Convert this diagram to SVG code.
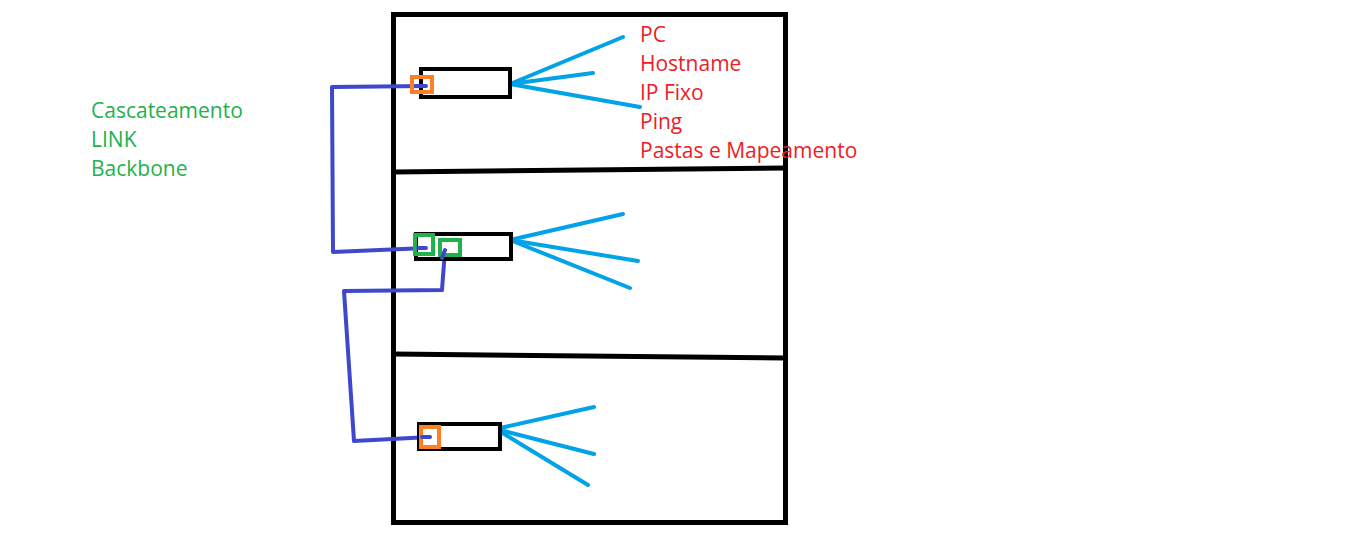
<svg xmlns="http://www.w3.org/2000/svg" width="1345" height="553" viewBox="0 0 1345 553">
<style>
.frame{fill:none;stroke:#000;stroke-width:5}
.sw{fill:#fff;stroke:#000;stroke-width:4}
.or{fill:none;stroke:#FF7F27;stroke-width:4}
.gr{fill:none;stroke:#22B14C;stroke-width:4}
.bl{fill:none;stroke:#3F48CC;stroke-width:4;stroke-linecap:round;stroke-linejoin:round}
.cy{fill:none;stroke:#00A2E8;stroke-width:4;stroke-linecap:round}
.red{font-family:"Open Sans","Liberation Sans",sans-serif;font-size:21px;fill:#ED1C24}
.grt{font-family:"Open Sans","Liberation Sans",sans-serif;font-size:21px;fill:#22B14C}
</style>
<rect width="1345" height="553" fill="#fff"/>
<g id="building">
<rect class="frame" x="393.5" y="14.5" width="392" height="508"/>
<line class="frame" x1="393.5" y1="172" x2="785.5" y2="168"/>
<line class="frame" x1="393.5" y1="354" x2="785.5" y2="358"/>
</g>
<g id="connectors">
<polyline class="bl" points="426,86 332,87 333,252 426,248"/>
<polyline class="bl" points="445,250 442,290 344,291 354,441 430,437"/>
<line class="cy" x1="510" y1="84" x2="623" y2="37"/>
<line class="cy" x1="510" y1="84" x2="593" y2="73"/>
<line class="cy" x1="510" y1="84" x2="640" y2="107"/>
<line class="cy" x1="510" y1="240" x2="623" y2="214"/>
<line class="cy" x1="510" y1="240" x2="638" y2="261"/>
<line class="cy" x1="510" y1="240" x2="630" y2="288"/>
<line class="cy" x1="496" y1="429" x2="594" y2="407"/>
<line class="cy" x1="496" y1="429" x2="594" y2="454"/>
<line class="cy" x1="496" y1="429" x2="588" y2="485"/>
</g>
<g id="switch1">
<rect class="sw" x="421" y="69" width="89" height="28"/>
<rect class="or" x="412" y="77" width="20" height="15"/>
</g>
<g id="switch2">
<rect class="sw" x="416" y="234" width="95" height="25"/>
<rect class="gr" x="415" y="235" width="18" height="19"/>
<rect class="gr" x="440" y="240" width="20" height="15"/>
</g>
<g id="switch3">
<rect class="sw" x="419" y="424" width="81" height="25"/>
<rect class="or" x="421" y="427" width="18" height="20"/>
</g>
<g id="links">
<polyline class="bl" points="426,86 418,86"/>
<polyline class="bl" points="426,248 418,248"/>
<polyline class="bl" points="445,250 442,258"/>
<polyline class="bl" points="430,437 422,437"/>
</g>
<g id="legend-red">
<text class="red" x="640" y="42">PC</text>
<text class="red" x="640" y="71">Hostname</text>
<text class="red" x="640" y="100">IP Fixo</text>
<text class="red" x="640" y="129">Ping</text>
<text class="red" x="640" y="158">Pastas e Mapeamento</text>
</g>
<g id="legend-green">
<text class="grt" x="91" y="118">Cascateamento</text>
<text class="grt" x="91" y="147">LINK</text>
<text class="grt" x="91" y="176">Backbone</text>
</g>
</svg>
